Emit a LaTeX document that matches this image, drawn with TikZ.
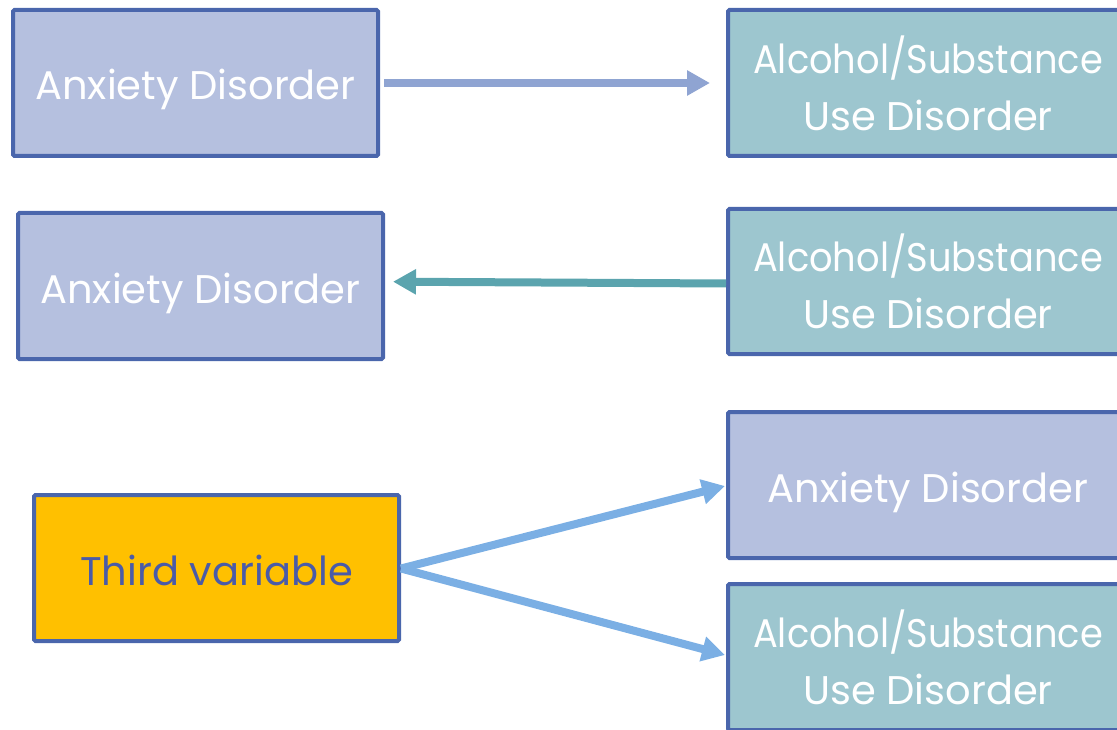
\documentclass[tikz,border=0pt]{standalone}
\usepackage{fontspec}
\setmainfont{Poppins}
\newfontfamily\slimfont[FakeStretch=0.92]{Poppins}
\usetikzlibrary{arrows.meta}
\definecolor{edge}{HTML}{4A66AC}
\definecolor{lav}{HTML}{B5C0DF}
\definecolor{teal}{HTML}{9DC6CF}
\definecolor{gold}{HTML}{FFC000}
\definecolor{arrA}{HTML}{8FA4D2}
\definecolor{arrB}{HTML}{5BA4AE}
\definecolor{arrC}{HTML}{7BAFE4}
\definecolor{txtblue}{HTML}{4A5BA8}
\newcommand{\alcline}{{\slimfont Alcohol/Substance}\\Use Disorder}
\tikzset{
  box/.style={draw=edge, line width=4pt, rounded corners=1.5pt, inner sep=0pt,
    minimum width=365pt, minimum height=146pt, align=center,
    font=\fontsize{40}{57}\selectfont, text=white},
  oneline/.style={text height=34pt, text depth=0pt},
  anx/.style={box, oneline, fill=lav},
  sub/.style={box, fill=teal, minimum width=400pt},
  third/.style={box, oneline, fill=gold, text=txtblue},
  link/.style={line width=8pt, -{Triangle[length=23pt,width=24pt]}},
}
\begin{document}
\begin{tikzpicture}[x=1pt,y=-1pt]
\useasboundingbox (0,0) rectangle (1117,730);
\clip (0,0) rectangle (1117,730);
% row 1: anxiety leads to substance use
\node[anx] (a1) at (195.5,83) {Anxiety Disorder};
\node[sub] (s1) at (928,83) {\alcline};
% row 2: substance use leads to anxiety
\node[anx] (a2) at (200.5,286) {Anxiety Disorder};
\node[sub, minimum height=145pt] (s2) at (928,281.5) {\alcline};
% row 3: a third variable drives both
\node[third] (t) at (216.5,568) {Third variable};
\node[anx, minimum width=400pt] (a3) at (928,485) {Anxiety Disorder};
\node[sub] (s3) at (928,657) {\alcline};
\coordinate (t0) at (401,568.5);
\draw[link, arrA] ([xshift=4pt]a1.east) -- ([xshift=-16pt]s1.west);
\draw[link, arrB] ([yshift=-2pt]s2.west) -- ([xshift=8pt,yshift=4.3pt]a2.east);
\draw[link, arrC] (t0) -- ([xshift=-1pt,yshift=-1pt]a3.west);
\draw[link, arrC] (t0) -- ([xshift=-1pt,yshift=2pt]s3.west);
\end{tikzpicture}
\end{document}
